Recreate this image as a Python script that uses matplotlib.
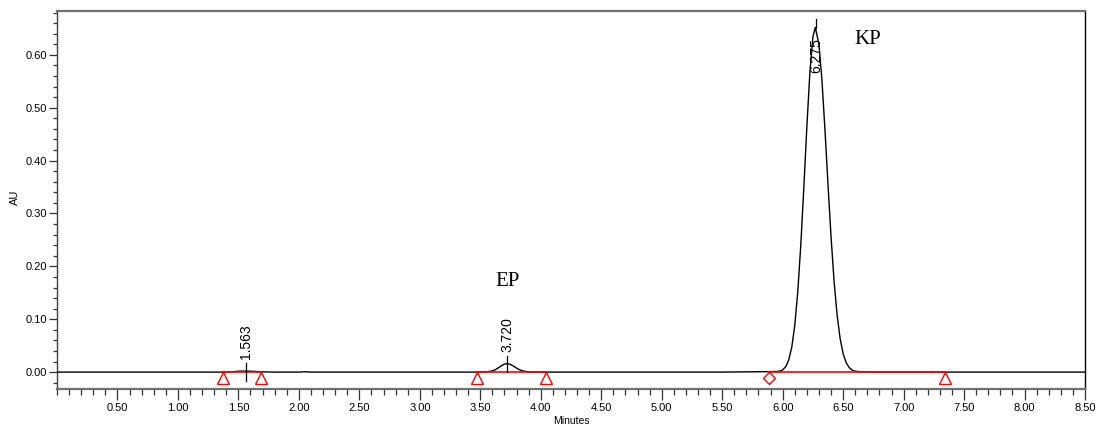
import numpy as np
import matplotlib
matplotlib.use("Agg")
import matplotlib.pyplot as plt
from matplotlib.ticker import MultipleLocator, FormatStrFormatter

plt.rcParams['font.family'] = ['Liberation Sans', 'DejaVu Sans']

# chromatogram trace (minutes, AU)
time = [0.00, 1.35, 1.45, 1.50, 1.563, 1.62, 1.68, 1.80, 2.00, 2.05, 2.10, 3.45,
        3.55, 3.60, 3.625, 3.65, 3.675, 3.70, 3.72, 3.745, 3.77, 3.795, 3.82,
        3.85, 3.90, 3.95, 5.50, 5.85, 5.90, 5.95, 5.975, 6.00, 6.025, 6.05,
        6.075, 6.10, 6.125, 6.15, 6.175, 6.20, 6.225, 6.25, 6.27, 6.30, 6.325,
        6.35, 6.375, 6.40, 6.425, 6.45, 6.475, 6.50, 6.525, 6.55, 6.575, 6.60,
        6.65, 6.70, 6.80, 8.50]
absorb = [0.0, 0.0, 0.0007, 0.0016, 0.002, 0.0015, 0.0006, 0.0, 0.0, 0.0006, 0.0, 0.0,
          0.0003, 0.0022, 0.0046, 0.0081, 0.0121, 0.0151, 0.016, 0.0149, 0.0119, 0.0082, 0.0049,
          0.0022, 0.0003, 0.0, 0.0, 0.0008, 0.0009, 0.0012, 0.0018, 0.0042, 0.0102, 0.0229,
          0.0469, 0.0882, 0.152, 0.241, 0.349, 0.464, 0.567, 0.634, 0.652, 0.620, 0.551,
          0.457, 0.354, 0.256, 0.172, 0.108, 0.0636, 0.0348, 0.0178, 0.0085, 0.0038, 0.0016,
          0.0006, 0.0003, 0.0, 0.0]

# integration baselines: start, end, start marker, end marker
base_start = [1.37, 3.474, 5.887]
base_end = [1.686, 4.041, 7.34]
start_marker = ['^', '^', 'D']
end_marker = ['^', '^', '^']

# peak labels
peak_rt = [1.563, 3.720, 6.275]
peak_text = ['1.563', '3.720', '6.275']
tick_low = [-0.016, 0.0, 0.651]
tick_high = [0.017, 0.030, 0.668]
label_y = [0.025, 0.038, 0.632]
label_va = ['bottom', 'bottom', 'top']

names = ['EP', 'KP']
name_x = [3.628, 6.595]
name_y = [0.172, 0.630]

fig = plt.figure(figsize=(11, 4.28), dpi=100)
ax = fig.add_axes([0.0518, 0.0911, 0.9346, 0.8832])

ax.plot(time, absorb, color='black', lw=1.0, zorder=3)

for s, e, ms, me in zip(base_start, base_end, start_marker, end_marker):
    ax.plot([s, e], [0, 0], color='red', lw=1.2, zorder=4)
    ax.plot(s, -0.011, marker=ms, mfc='none', mec='red', ms=8 if ms == '^' else 6.5,
            mew=1.0, ls='none', zorder=5, clip_on=False)
    ax.plot(e, -0.011, marker=me, mfc='none', mec='red', ms=8, mew=1.0,
            ls='none', zorder=5, clip_on=False)

for rt, txt, lo, hi, ly, va in zip(peak_rt, peak_text, tick_low, tick_high, label_y, label_va):
    ax.plot([rt, rt], [lo, hi], color='black', lw=0.9, zorder=4)
    ax.text(rt, ly, txt, rotation=90, ha='center', va=va, fontsize=10, zorder=6)

for nm, nx, ny in zip(names, name_x, name_y):
    ax.text(nx, ny, nm, family='Liberation Serif', fontsize=15, ha='left', va='center')

ax.set_xlim(0, 8.5)
ax.set_ylim(-0.032, 0.683)

ax.xaxis.set_major_locator(MultipleLocator(0.5))
ax.xaxis.set_minor_locator(MultipleLocator(0.1))
ax.yaxis.set_major_locator(MultipleLocator(0.1))
ax.yaxis.set_minor_locator(MultipleLocator(0.02))
ax.xaxis.set_major_formatter(FormatStrFormatter('%.2f'))
ax.yaxis.set_major_formatter(FormatStrFormatter('%.2f'))
ax.set_xticks([x for x in np.arange(0.5, 8.51, 0.5)])

ax.tick_params(axis='both', which='major', direction='out', labelsize=8, width=0.9,
               color='#333333')
ax.tick_params(axis='x', which='major', length=8, pad=2)
ax.tick_params(axis='y', which='major', length=6, pad=1)
ax.tick_params(axis='x', which='minor', direction='out', length=4, width=0.9, color='#333333')
ax.tick_params(axis='y', which='minor', direction='out', length=3, width=0.9, color='#333333')

ax.spines['top'].set_color('#707070')
ax.spines['top'].set_linewidth(1.6)
ax.spines['bottom'].set_color('#707070')
ax.spines['bottom'].set_linewidth(1.6)
ax.spines['left'].set_color('#404040')
ax.spines['left'].set_linewidth(1.0)
ax.spines['right'].set_color('black')
ax.spines['right'].set_linewidth(1.0)

ax.set_xlabel('Minutes', fontsize=7.5, labelpad=2)
ax.set_ylabel('AU', fontsize=8)
ax.yaxis.set_label_coords(-0.036, 0.508)

fig.savefig('out.png', dpi=100)
